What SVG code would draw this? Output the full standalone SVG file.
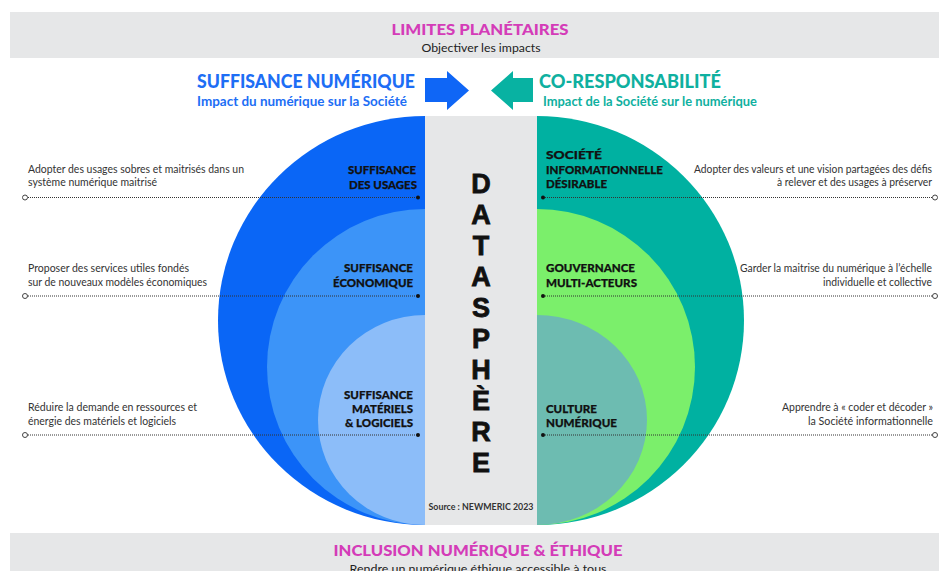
<svg xmlns="http://www.w3.org/2000/svg" width="939" height="571" viewBox="0 0 939 571">
<style>
.band{fill:#e6e7e8}
.ttl{font-family:Lato,"Liberation Sans",sans-serif;font-weight:900;fill:#d43cb8;text-anchor:middle}
.sub{font-family:Lato,"Liberation Sans",sans-serif;font-size:12px;fill:#222;text-anchor:middle}
.hd{font-family:Lato,"Liberation Sans",sans-serif;font-weight:900;font-size:18px}
.hs{font-family:Lato,"Liberation Sans",sans-serif;font-weight:700;font-size:12.5px}
.lab{font-family:Lato,"Liberation Sans",sans-serif;font-weight:900;font-size:12px;fill:#111;stroke:#111;stroke-width:0.25}
.l{text-anchor:end}
.desc{font-family:Lato,"Liberation Sans",sans-serif;font-size:10.5px;fill:#333}
.big{font-family:"Liberation Sans",Arial,sans-serif;font-weight:700;font-size:27px;fill:#111;stroke:#111;stroke-width:0.8;text-anchor:middle}
.dot{stroke:#333;stroke-width:1;stroke-dasharray:1 1;fill:none}
.oc{fill:#fff;stroke:#444;stroke-width:1}
.fc{fill:#111}
</style>
<rect width="939" height="571" fill="#fff"/>
<g id="limites">
<rect class="band" x="10" y="12" width="929" height="46"/>
<text class="ttl" x="480" y="35" font-size="15" textLength="177" lengthAdjust="spacingAndGlyphs">LIMITES PLANÉTAIRES</text>
<text class="sub" x="481" y="52" textLength="119" lengthAdjust="spacingAndGlyphs">Objectiver les impacts</text>
</g>
<g id="suffisance-numerique">
<text class="hd" x="197" y="88" fill="#1d6ef5" textLength="218" lengthAdjust="spacingAndGlyphs">SUFFISANCE NUMÉRIQUE</text>
<text class="hs" x="197" y="106" fill="#1d6ef5" textLength="210" lengthAdjust="spacingAndGlyphs">Impact du numérique sur la Société</text>
<polygon points="425,78 447,78 447,71 469,90.5 447,110 447,102 425,102" fill="#0f66f6"/>
</g>
<g id="co-responsabilite">
<text class="hd" x="539" y="88" fill="#0fb0a0" textLength="182" lengthAdjust="spacingAndGlyphs">CO-RESPONSABILITÉ</text>
<text class="hs" x="543" y="106" fill="#0fb0a0" textLength="214" lengthAdjust="spacingAndGlyphs">Impact de la Société sur le numérique</text>
<polygon points="533,78 513,78 513,71 491,90.5 513,110 513,102 533,102" fill="#08b2a2"/>
</g>
<g id="left-rings">
<path d="M425,116 A207,204.5 0 0 0 425,525 Z" fill="#0a66f6"/>
<path d="M425,209 A158,158 0 0 0 425,525 Z" fill="#3c94f8"/>
<path d="M425,315 A107,105 0 0 0 425,525 Z" fill="#8cbdf9"/>
</g>
<g id="right-rings">
<path d="M537,116 A207,204.5 0 0 1 537,525 Z" fill="#00b1a1"/>
<path d="M537,209 A158,158 0 0 1 537,525 Z" fill="#7bef6b"/>
<path d="M537,315 A110,105 0 0 1 537,525 Z" fill="#6dbcb1"/>
</g>
<g id="datasphere">
<rect class="band" x="425" y="116" width="112" height="409"/>
<text class="big" x="481" y="193">D</text>
<text class="big" x="481" y="224">A</text>
<text class="big" x="481" y="255">T</text>
<text class="big" x="481" y="286">A</text>
<text class="big" x="481" y="317">S</text>
<text class="big" x="481" y="348">P</text>
<text class="big" x="481" y="379">H</text>
<text class="big" x="481" y="410">È</text>
<text class="big" x="481" y="441">R</text>
<text class="big" x="481" y="472">E</text>
<text x="481" y="510" font-family="Lato,'Liberation Sans',sans-serif" font-weight="700" font-size="8.5" fill="#333" text-anchor="middle" textLength="105" lengthAdjust="spacingAndGlyphs">Source : NEWMERIC 2023</text>
</g>
<g id="suffisance-usages">
<text class="lab l" x="416" y="174" textLength="68" lengthAdjust="spacingAndGlyphs">SUFFISANCE</text>
<text class="lab l" x="417" y="189" textLength="68" lengthAdjust="spacingAndGlyphs">DES USAGES</text>
<text class="desc" x="28" y="173" textLength="216" lengthAdjust="spacingAndGlyphs">Adopter des usages sobres et maitrisés dans un</text>
<text class="desc" x="28" y="186" textLength="129" lengthAdjust="spacingAndGlyphs">système numérique maitrisé</text>
</g>
<g id="suffisance-economique">
<text class="lab l" x="413" y="272" textLength="69" lengthAdjust="spacingAndGlyphs">SUFFISANCE</text>
<text class="lab l" x="413" y="287" textLength="80" lengthAdjust="spacingAndGlyphs">ÉCONOMIQUE</text>
<text class="desc" x="28" y="272" textLength="161" lengthAdjust="spacingAndGlyphs">Proposer des services utiles fondés</text>
<text class="desc" x="28" y="286" textLength="179" lengthAdjust="spacingAndGlyphs">sur de nouveaux modèles économiques</text>
</g>
<g id="suffisance-materiels">
<text class="lab l" x="413" y="399" textLength="69" lengthAdjust="spacingAndGlyphs">SUFFISANCE</text>
<text class="lab l" x="413" y="413" textLength="61" lengthAdjust="spacingAndGlyphs">MATÉRIELS</text>
<text class="lab l" x="413" y="427" textLength="68" lengthAdjust="spacingAndGlyphs">&amp; LOGICIELS</text>
<text class="desc" x="28" y="411" textLength="169" lengthAdjust="spacingAndGlyphs">Réduire la demande en ressources et</text>
<text class="desc" x="28" y="425" textLength="148" lengthAdjust="spacingAndGlyphs">énergie des matériels et logiciels</text>
</g>
<g id="societe-informationnelle">
<text class="lab" x="546" y="159" textLength="56" lengthAdjust="spacingAndGlyphs">SOCIÉTÉ</text>
<text class="lab" x="546" y="174" textLength="117" lengthAdjust="spacingAndGlyphs">INFORMATIONNELLE</text>
<text class="lab" x="546" y="188" textLength="61" lengthAdjust="spacingAndGlyphs">DÉSIRABLE</text>
<text class="desc l" x="932" y="173" textLength="238" lengthAdjust="spacingAndGlyphs">Adopter des valeurs et une vision partagées des défis</text>
<text class="desc l" x="932" y="186" textLength="155" lengthAdjust="spacingAndGlyphs">à relever et des usages à préserver</text>
</g>
<g id="gouvernance">
<text class="lab" x="546" y="272" textLength="89" lengthAdjust="spacingAndGlyphs">GOUVERNANCE</text>
<text class="lab" x="546" y="287" textLength="91" lengthAdjust="spacingAndGlyphs">MULTI-ACTEURS</text>
<text class="desc l" x="932" y="272" textLength="192" lengthAdjust="spacingAndGlyphs">Garder la maitrise du numérique à l’échelle</text>
<text class="desc l" x="932" y="286" textLength="109" lengthAdjust="spacingAndGlyphs">individuelle et collective</text>
</g>
<g id="culture-numerique">
<text class="lab" x="546" y="413" textLength="51" lengthAdjust="spacingAndGlyphs">CULTURE</text>
<text class="lab" x="546" y="427" textLength="71" lengthAdjust="spacingAndGlyphs">NUMÉRIQUE</text>
<text class="desc l" x="933" y="411" textLength="151" lengthAdjust="spacingAndGlyphs">Apprendre à « coder et décoder »</text>
<text class="desc l" x="933" y="425" textLength="125" lengthAdjust="spacingAndGlyphs">la Société informationnelle</text>
</g>
<g id="connectors">
<line class="dot" x1="28" y1="197.5" x2="418" y2="197.5"/>
<line class="dot" x1="28" y1="296" x2="418" y2="296"/>
<line class="dot" x1="28" y1="435" x2="418" y2="435"/>
<line class="dot" x1="543" y1="197.5" x2="932" y2="197.5"/>
<line class="dot" x1="543" y1="296" x2="932" y2="296"/>
<line class="dot" x1="543" y1="435" x2="932" y2="435"/>
<circle class="oc" cx="25" cy="197.5" r="2.5"/>
<circle class="oc" cx="25" cy="296" r="2.5"/>
<circle class="oc" cx="25" cy="435" r="2.5"/>
<circle class="fc" cx="418" cy="197.5" r="2"/>
<circle class="fc" cx="418" cy="296" r="2"/>
<circle class="fc" cx="418" cy="435" r="2"/>
<circle class="fc" cx="543" cy="197.5" r="2"/>
<circle class="fc" cx="543" cy="296" r="2"/>
<circle class="fc" cx="543" cy="435" r="2"/>
<circle class="oc" cx="935" cy="197.5" r="2.5"/>
<circle class="oc" cx="935" cy="296" r="2.5"/>
<circle class="oc" cx="935" cy="435" r="2.5"/>
</g>
<g id="inclusion">
<rect class="band" x="10" y="533" width="929" height="38"/>
<text class="ttl" x="478" y="556" font-size="15.5" textLength="289" lengthAdjust="spacingAndGlyphs">INCLUSION NUMÉRIQUE &amp; ÉTHIQUE</text>
<text class="sub" x="478" y="573" textLength="257" lengthAdjust="spacingAndGlyphs">Rendre un numérique éthique accessible à tous</text>
</g>
</svg>
